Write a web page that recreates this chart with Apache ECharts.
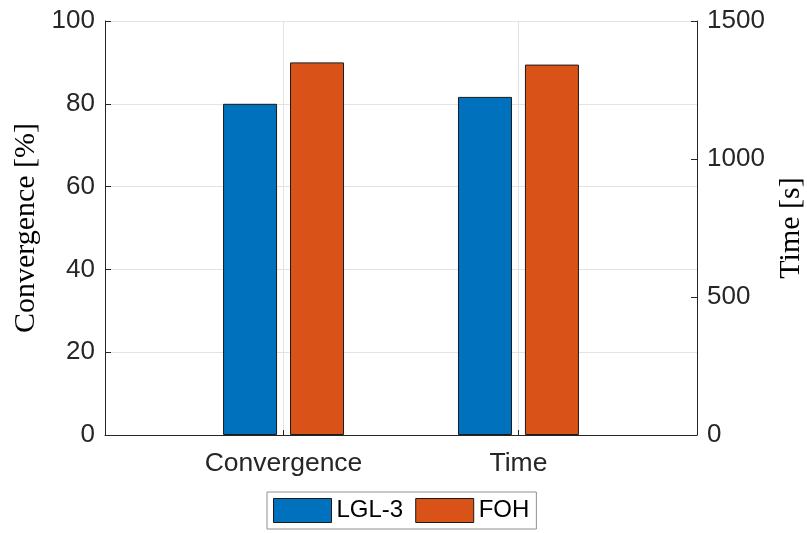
<!DOCTYPE html>
<html>
<head>
<meta charset="utf-8">
<script src="https://cdn.jsdelivr.net/npm/echarts@6/dist/echarts.min.js"></script>
<style>
html,body{margin:0;padding:0;background:#fff;}
#chart{width:807px;height:533px;}
</style>
</head>
<body>
<div id="chart"></div>
<script>
// Data
const categories = ['Convergence', 'Time'];
const seriesNames = ['LGL-3', 'FOH'];
const convergenceValues = [80, 90];     // left axis, [%]
const timeValues = [1225, 1342];        // right axis, [s]
const leftTicks = [0, 20, 40, 60, 80, 100];
const rightTicks = [0, 500, 1000, 1500];
const colors = ['#0072BD', '#D95319'];

const axisColor = '#262626';
const gridColor = '#e3e3e3';
const labelFont = 'Liberation Sans, Arial, Helvetica, sans-serif';
const titleFont = 'Liberation Serif, Times New Roman, serif';

const chart = echarts.init(document.getElementById('chart'), null, {renderer: 'canvas'});

const catPos = categories.map((c, i) => i + 1);

function barSeries(name, idx, axisIdx, catIndex, value) {
  return {
    name: name,
    type: 'bar',
    xAxisIndex: axisIdx,
    yAxisIndex: axisIdx,
    barWidth: 54,
    barGap: '24%',
    itemStyle: {color: colors[idx], borderColor: '#1a1a1a', borderWidth: 1},
    emphasis: {disabled: true},
    data: [[catPos[catIndex], value]]
  };
}

const xBase = {
  type: 'value',
  min: 0.24,
  max: 2.76,
  axisLine: {show: true, onZero: false, lineStyle: {color: axisColor, width: 1}},
  axisTick: {show: true, inside: true, length: 5, customValues: catPos, lineStyle: {color: axisColor}},
  axisLabel: {
    show: true, customValues: catPos, margin: 15,
    fontFamily: labelFont, fontSize: 26.5, color: axisColor,
    formatter: v => categories[Math.round(v) - 1] || ''
  },
  splitLine: {show: true, lineStyle: {color: gridColor, width: 1}}
};

const option = {
  animation: false,
  backgroundColor: '#fff',
  grid: {left: 105, right: 110, top: 21, bottom: 98, containLabel: false, outerBoundsMode: 'none'},
  legend: {
    data: seriesNames,
    left: 267,
    bottom: 4,
    orient: 'horizontal',
    icon: 'rect',
    itemWidth: 58,
    itemHeight: 24,
    itemGap: 12,
    padding: [6, 7, 6, 6],
    borderColor: '#8f8f8f',
    borderWidth: 1,
    backgroundColor: '#fff',
    textStyle: {fontFamily: labelFont, fontSize: 24, color: '#000', lineHeight: 24},
    itemStyle: {borderColor: '#1a1a1a', borderWidth: 1},
    selectedMode: false
  },
  xAxis: [
    xBase,
    Object.assign({}, xBase, {show: false, splitLine: {show: false}})
  ],
  yAxis: [
    {
      type: 'value',
      position: 'left',
      min: leftTicks[0],
      max: leftTicks[leftTicks.length - 1],
      interval: leftTicks[1] - leftTicks[0],
      name: 'Convergence [%]',
      nameLocation: 'middle',
      nameGap: 63,
      nameTextStyle: {fontFamily: titleFont, fontSize: 30, color: '#000'},
      axisLine: {show: true, lineStyle: {color: axisColor, width: 1}},
      axisTick: {show: true, inside: true, length: 6, lineStyle: {color: axisColor}},
      axisLabel: {margin: 10, fontFamily: labelFont, fontSize: 26, color: axisColor, formatter: v => String(v)},
      splitLine: {show: true, lineStyle: {color: gridColor, width: 1}}
    },
    {
      type: 'value',
      position: 'right',
      min: rightTicks[0],
      max: rightTicks[rightTicks.length - 1],
      interval: rightTicks[1] - rightTicks[0],
      name: 'Time [s]',
      nameLocation: 'middle',
      nameGap: 69,
      nameTextStyle: {fontFamily: titleFont, fontSize: 30, color: '#000'},
      axisLine: {show: true, lineStyle: {color: axisColor, width: 1}},
      axisTick: {show: true, inside: true, length: 6, lineStyle: {color: axisColor}},
      axisLabel: {margin: 10, fontFamily: labelFont, fontSize: 26, color: axisColor, formatter: v => String(v)},
      splitLine: {show: false}
    }
  ],
  series: [
    barSeries(seriesNames[0], 0, 0, 0, convergenceValues[0]),
    barSeries(seriesNames[1], 1, 0, 0, convergenceValues[1]),
    barSeries(seriesNames[0], 0, 1, 1, timeValues[0]),
    barSeries(seriesNames[1], 1, 1, 1, timeValues[1])
  ]
};

chart.setOption(option);
</script>
</body>
</html>
